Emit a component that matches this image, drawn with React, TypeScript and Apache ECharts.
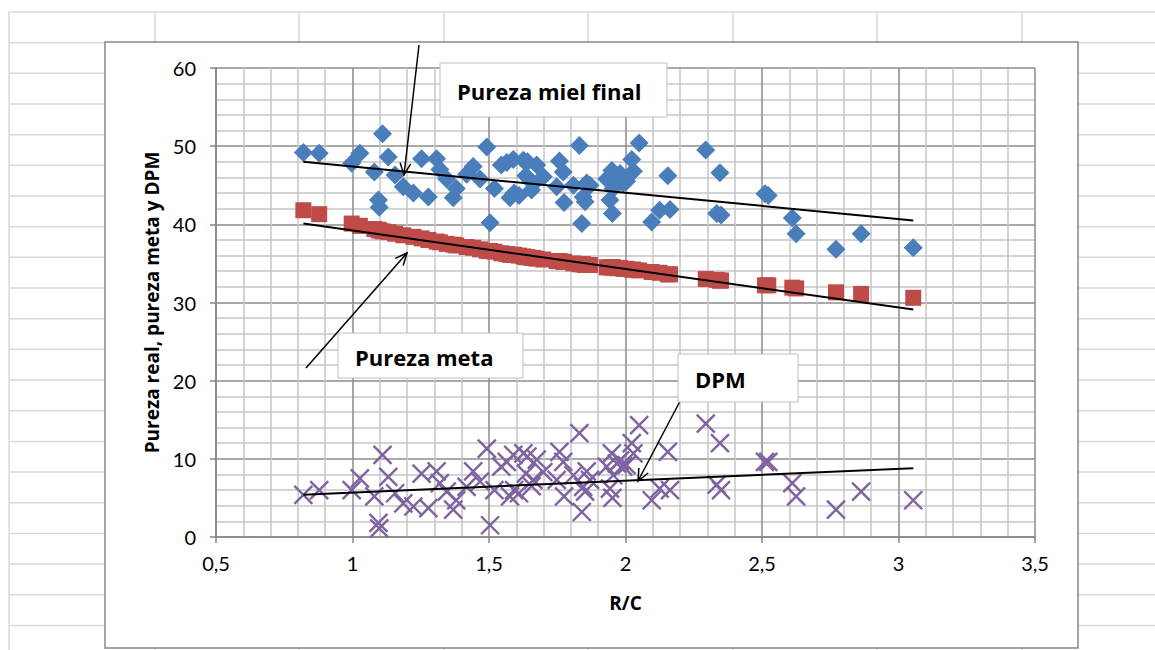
import React, { useEffect, useRef } from "react";
import * as echarts from "echarts";

// R/C of each sample
const rc = [
  0.82, 0.878, 0.997, 1.027, 1.08, 1.095, 1.098, 1.11, 1.131, 1.156,
  1.186, 1.223, 1.253, 1.278, 1.308, 1.32, 1.345, 1.369, 1.38, 1.418,
  1.442, 1.467, 1.492, 1.504, 1.52, 1.545, 1.565, 1.577, 1.589, 1.592,
  1.61, 1.626, 1.635, 1.641, 1.656, 1.662, 1.675, 1.699, 1.748, 1.758,
  1.772, 1.775, 1.809, 1.831, 1.84, 1.845, 1.852, 1.858, 1.87, 1.931,
  1.943, 1.95, 1.952, 1.955, 1.968, 1.98, 1.992, 2.004, 2.023, 2.029,
  2.05, 2.096, 2.125, 2.155, 2.163, 2.294, 2.334, 2.346, 2.35, 2.511,
  2.523, 2.611, 2.625, 2.771, 2.863, 3.054,
];
// Pureza real (miel final)
const purezaMiel = [
  49.2, 49.1, 47.8, 49.1, 46.7, 43.1, 42.2, 51.6, 48.6, 46.3,
  44.8, 44.0, 48.4, 43.5, 48.4, 47.0, 45.8, 43.4, 44.6, 46.4,
  47.4, 45.8, 49.9, 40.2, 44.6, 47.6, 47.9, 43.4, 48.3, 44.0,
  43.7, 48.2, 46.2, 48.0, 44.4, 45.2, 47.6, 46.1, 44.8, 48.1,
  46.7, 42.8, 45.0, 50.1, 40.1, 43.5, 42.9, 45.3, 45.0, 45.8,
  43.1, 46.9, 41.4, 44.6, 46.0, 46.5, 45.3, 45.5, 48.3, 46.8,
  50.4, 40.3, 41.8, 46.2, 41.9, 49.5, 41.4, 46.6, 41.2, 43.9,
  43.7, 40.8, 38.8, 36.8, 38.8, 37.0,
];
// Pureza meta
const purezaMeta = [
  41.8, 41.3, 40.1, 39.8, 39.4, 39.3, 39.2, 39.1, 39.0, 38.8,
  38.6, 38.4, 38.2, 38.0, 37.8, 37.7, 37.5, 37.4, 37.3, 37.1,
  37.0, 36.8, 36.6, 36.6, 36.5, 36.3, 36.2, 36.1, 36.1, 36.1,
  36.0, 35.9, 35.8, 35.8, 35.7, 35.7, 35.6, 35.5, 35.3, 35.3,
  35.2, 35.2, 35.0, 34.9, 34.9, 34.9, 34.8, 34.8, 34.8, 34.5,
  34.5, 34.5, 34.5, 34.5, 34.4, 34.4, 34.3, 34.3, 34.2, 34.2,
  34.1, 33.9, 33.8, 33.6, 33.6, 33.0, 32.9, 32.8, 32.8, 32.2,
  32.2, 31.9, 31.8, 31.3, 31.1, 30.6,
];
// DPM
const dpm = [
  5.4, 6.0, 6.0, 7.5, 5.2, 1.8, 1.1, 10.5, 7.7, 5.6,
  4.3, 3.9, 8.1, 3.7, 8.4, 6.9, 5.8, 3.5, 4.7, 6.4,
  8.4, 7.1, 11.3, 1.5, 6.0, 9.0, 9.6, 5.2, 10.5, 6.0,
  5.6, 10.7, 8.1, 10.3, 6.5, 7.3, 9.9, 8.3, 7.3, 10.9,
  9.6, 5.2, 7.9, 13.3, 3.2, 6.4, 5.8, 8.4, 7.3, 9.0,
  6.2, 10.7, 5.0, 7.9, 9.4, 9.8, 9.0, 9.2, 12.0, 10.7,
  14.3, 4.7, 6.2, 10.9, 6.0, 14.5, 6.7, 12.0, 6.0, 9.6,
  9.6, 6.9, 5.2, 3.5, 5.8, 4.7,
];

// Linear trend lines (end points)
const trendX = [0.82, 3.054];
const trendMiel = [48.0, 40.5];
const trendMeta = [40.1, 29.1];
const trendDpm = [5.4, 8.8];

const xAxisName = "R/C";
const yAxisName = "Pureza real, pureza meta y DPM";
const labelMiel = "Pureza miel final";
const labelMeta = "Pureza meta";
const labelDpm = "DPM";

const FONT = "Lato, 'Open Sans', sans-serif";
const BOLD_FONT = "'Open Sans', Lato, sans-serif";

function arrow(x1: number, y1: number, x2: number, y2: number, z: number) {
  const a = Math.atan2(y2 - y1, x2 - x1);
  const len = 13;
  const spread = 0.42;
  const p1 = [x2 - len * Math.cos(a - spread), y2 - len * Math.sin(a - spread)];
  const p2 = [x2 - len * Math.cos(a + spread), y2 - len * Math.sin(a + spread)];
  return [
    { type: "line", z, silent: true, shape: { x1, y1, x2, y2 }, style: { stroke: "#000", lineWidth: 1.5 } },
    { type: "polyline", z, silent: true, shape: { points: [p1, [x2, y2], p2] }, style: { stroke: "#000", lineWidth: 1.5, fill: null } },
  ];
}

function labelBox(x: number, y: number, w: number, h: number, text: string, z: number) {
  return [
    { type: "rect", z, silent: true, shape: { x, y, width: w, height: h }, style: { fill: "#fff", stroke: "#bfbfbf", lineWidth: 1 } },
    {
      type: "text", z: z + 1, silent: true, x: x + 17, y: y + h / 2 + 1,
      style: { text, font: `bold 22px ${BOLD_FONT}`, fill: "#000", textAlign: "left", textVerticalAlign: "middle" },
    },
  ];
}

export default function App() {
  const ref = useRef<HTMLDivElement>(null);
  useEffect(() => {
    if (!ref.current) return;
    const chart = echarts.init(ref.current, null, { renderer: "svg" });

    const bg: any[] = [];
    const sheetColor = "#d9d9d9";
    for (let k = 0; k <= 21; k++) {
      const y = 12 + 30.67 * k;
      if (y > 650) break;
      bg.push({ type: "line", z: -20, silent: true, shape: { x1: 9, y1: y, x2: 1155, y2: y }, style: { stroke: sheetColor, lineWidth: 1.5 } });
    }
    const cols = [9, 155, 299, 444, 588, 733, 877, 1022];
    cols.forEach((x) => {
      bg.push({ type: "line", z: -20, silent: true, shape: { x1: x, y1: 12, x2: x, y2: 650 }, style: { stroke: sheetColor, lineWidth: 1.5 } });
    });
    bg.push({ type: "rect", z: -10, silent: true, shape: { x: 105, y: 42, width: 973, height: 606 }, style: { fill: "#fff", stroke: "#888", lineWidth: 1.5 } });

    const ann: any[] = [
      ...arrow(419, 45, 404, 175, 50),
      ...arrow(306, 368, 407, 253, 50),
      ...arrow(687, 388, 638, 481, 50),
      ...labelBox(440, 63, 227, 54, labelMiel, 60),
      ...labelBox(338, 333, 185, 45, labelMeta, 60),
      ...labelBox(678, 354, 120, 48, labelDpm, 60),
    ];

    const pairs = (ys: number[]) => rc.map((x, i) => [x, ys[i]]);
    const trend = (ys: number[]) => trendX.map((x, i) => [x, ys[i]]);
    const fmt = (v: number) => String(v).replace(".", ",");

    chart.setOption({
      animation: false,
      backgroundColor: "#fff",
      textStyle: { fontFamily: FONT },
      grid: { left: 216, top: 68, width: 819, height: 469, containLabel: false },
      xAxis: {
        type: "value", min: 0.5, max: 3.5, interval: 0.5,
        name: xAxisName, nameLocation: "middle", nameGap: 56,
        nameTextStyle: { fontFamily: BOLD_FONT, fontWeight: "bold", fontSize: 19, color: "#000" },
        axisLine: { show: true, onZero: false, lineStyle: { color: "#868686", width: 1.5 } },
        axisTick: { show: true, length: 6, lineStyle: { color: "#868686", width: 1.5 } },
        axisLabel: { formatter: fmt, fontFamily: FONT, fontSize: 20, color: "#000", margin: 16 },
        splitLine: { show: true, lineStyle: { color: "#8c8c8c", width: 1.5 } },
        minorTick: { show: false, splitNumber: 5 },
        minorSplitLine: { show: true, lineStyle: { color: "#c6c6c6", width: 1.5 } },
      },
      yAxis: {
        type: "value", min: 0, max: 60, interval: 10,
        name: yAxisName, nameLocation: "middle", nameGap: 55, nameRotate: 90,
        nameTextStyle: { fontFamily: BOLD_FONT, fontWeight: "bold", fontSize: 19, color: "#000" },
        axisLine: { show: true, lineStyle: { color: "#868686", width: 1.5 } },
        axisTick: { show: true, length: 6, lineStyle: { color: "#868686", width: 1.5 } },
        axisLabel: { formatter: fmt, fontFamily: FONT, fontSize: 20, color: "#000", margin: 20 },
        splitLine: { show: true, lineStyle: { color: "#8c8c8c", width: 1.5 } },
        minorTick: { show: false, splitNumber: 5 },
        minorSplitLine: { show: true, lineStyle: { color: "#c6c6c6", width: 1.5 } },
      },
      series: [
        {
          name: "Pureza real", type: "scatter", data: pairs(purezaMiel),
          symbol: "diamond", symbolSize: [19, 19],
          itemStyle: { color: "#4a7ebb", opacity: 1 }, z: 3,
        },
        {
          name: "Pureza meta", type: "scatter", data: pairs(purezaMeta),
          symbol: "rect", symbolSize: [16, 16],
          itemStyle: { color: "#be4b48", opacity: 1 }, z: 3,
        },
        {
          name: "DPM", type: "scatter", data: pairs(dpm),
          symbol: "path://M0 0L10 10M10 0L0 10", symbolSize: [18, 18],
          itemStyle: { color: "rgba(0,0,0,0)", borderColor: "#7f63a1", borderWidth: 2.4, opacity: 1 }, z: 3,
        },
        { type: "line", data: trend(trendMiel), symbol: "none", lineStyle: { color: "#000", width: 2 }, z: 5, silent: true },
        { type: "line", data: trend(trendMeta), symbol: "none", lineStyle: { color: "#000", width: 2 }, z: 5, silent: true },
        { type: "line", data: trend(trendDpm), symbol: "none", lineStyle: { color: "#000", width: 2 }, z: 5, silent: true },
      ],
      graphic: { elements: [...bg, ...ann] },
    });
    return () => chart.dispose();
  }, []);

  return (
    <div
      ref={ref}
      style={{ position: "absolute", left: 0, top: 0, width: 1155, height: 650, background: "#fff" }}
    />
  );
}
